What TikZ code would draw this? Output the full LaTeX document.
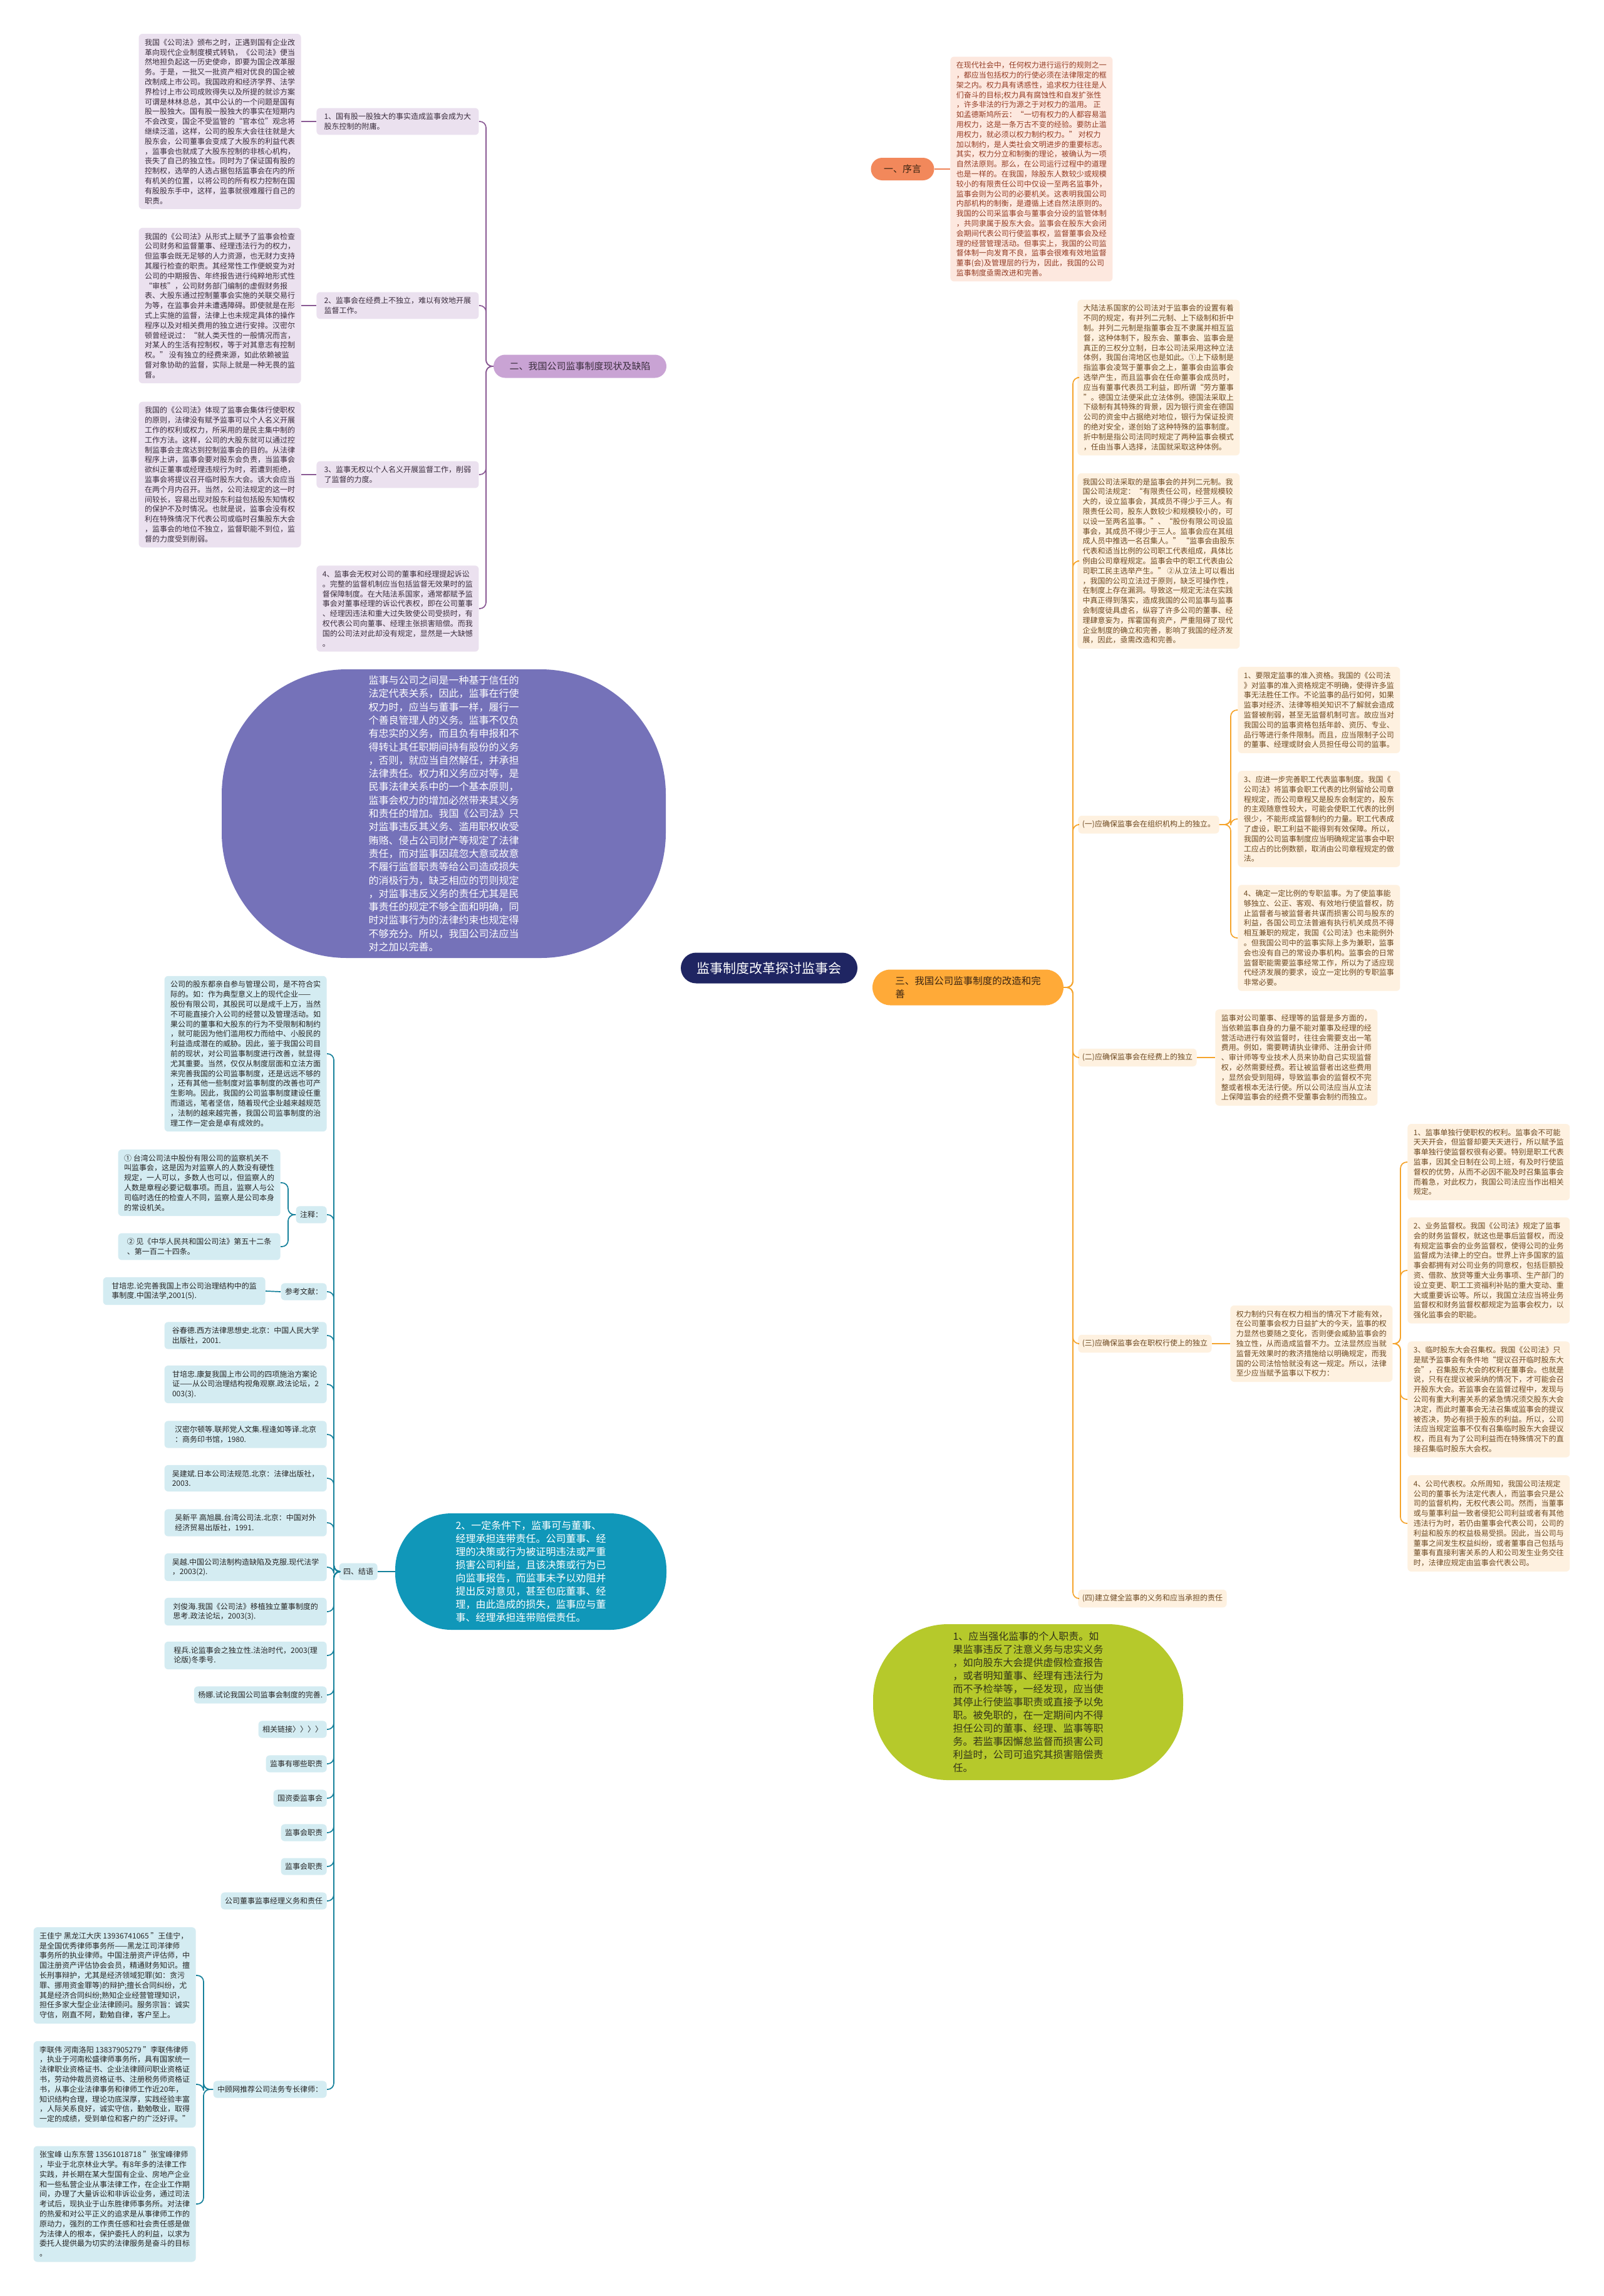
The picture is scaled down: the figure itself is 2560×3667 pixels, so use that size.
\documentclass[tikz,border=0pt]{standalone}
\usepackage{fontspec}
\setmainfont{Noto Sans CJK SC}
\pgfdeclarelayer{bg}
\pgfsetlayers{bg,main}
\definecolor{pfill}{HTML}{EBE1EF}
\definecolor{ptext}{HTML}{3B2E3E}
\definecolor{pline}{HTML}{8A5A94}
\definecolor{ppill}{HTML}{C9A3D4}
\definecolor{pell}{HTML}{7572B9}
\definecolor{rootc}{HTML}{1F2562}
\definecolor{ofill}{HTML}{FEF1E0}
\definecolor{otext}{HTML}{6E4A22}
\definecolor{oline}{HTML}{F5A42C}
\definecolor{opill}{HTML}{FFAA38}
\definecolor{xfill}{HTML}{FDE8DF}
\definecolor{xtext}{HTML}{943D26}
\definecolor{xline}{HTML}{EF8357}
\definecolor{xpill}{HTML}{F2885B}
\definecolor{tfill}{HTML}{D4ECF2}
\definecolor{ttext}{HTML}{262626}
\definecolor{tline}{HTML}{16819B}
\definecolor{tell}{HTML}{1097B9}
\definecolor{gell}{HTML}{B6C92B}
\definecolor{gtext}{HTML}{33331A}
\definecolor{dtext}{HTML}{3A2412}
\begin{document}
\begin{tikzpicture}[x=0.5pt,y=-0.5pt,
  bx/.style={inner xsep=3.25pt,inner ysep=4pt,rounded corners=3pt,align=left,font=\fontsize{6pt}{7.9pt}\selectfont},
  bxw/.style={bx,minimum width=129.5pt},
  pb/.style={bxw,fill=pfill,text=ptext},
  ob/.style={bxw,fill=ofill,text=otext},
  osm/.style={bx,fill=ofill,text=otext},
  xb/.style={bxw,fill=xfill,text=xtext},
  tb/.style={bxw,fill=tfill,text=ttext},
  tsm/.style={bx,fill=tfill,text=ttext},
  pl/.style={draw=pline,line width=0.85pt,rounded corners=5pt},
  ol/.style={draw=oline,line width=0.85pt,rounded corners=5pt},
  tl/.style={draw=tline,line width=0.85pt,rounded corners=5pt},
  xl/.style={draw=xline,line width=0.85pt},
  blob/.style={inner sep=2pt,align=left,font=\fontsize{8pt}{10.5pt}\selectfont},
]
\useasboundingbox (0,0) rectangle (2560,3667);
\fill[white] (0,0) rectangle (2560,3667);

% ---------- root ----------
\node[fill=rootc,text=white,rounded corners=12.25pt,minimum width=141pt,minimum height=24.5pt,inner sep=2pt,font=\fontsize{10.5pt}{12pt}\selectfont] (root) at (1228,1546) {监事制度改革探讨监事会};

% ---------- 一、序言 ----------
\node[fill=xpill,text=dtext,rounded corners=9pt,minimum width=50.5pt,minimum height=18pt,inner sep=2pt,font=\fontsize{7.5pt}{9pt}\selectfont] (xu) at (1441,270) {一、序言};
\node[xb,anchor=west] (xut) at (1517,270) {在现代社会中，任何权力进行运行的规则之一\\，都应当包括权力的行使必须在法律限定的框\\架之内。权力具有诱惑性，追求权力往往是人\\们奋斗的目标;权力具有腐蚀性和自发扩张性\\，许多非法的行为源之于对权力的滥用。 正\\如孟德斯鸠所云：“一切有权力的人都容易滥\\用权力，这是一条万古不变的经验。要防止滥\\用权力，就必须以权力制约权力。” 对权力\\加以制约，是人类社会文明进步的重要标志。\\其实，权力分立和制衡的理论，被确认为一项\\自然法原则。那么，在公司运行过程中的道理\\也是一样的。在我国，除股东人数较少或规模\\较小的有限责任公司中仅设一至两名监事外，\\监事会则为公司的必要机关。这表明我国公司\\内部机构的制衡，是遵循上述自然法原则的。\\我国的公司采监事会与董事会分设的监管体制\\，共同隶属于股东大会。监事会在股东大会闭\\会期间代表公司行使监事权，监督董事会及经\\理的经营管理活动。但事实上，我国的公司监\\督体制一向发育不良，监事会很难有效地监督\\董事(会)及管理层的行为，因此，我国的公司\\监事制度亟需改进和完善。};

% ---------- 二 ----------
\node[fill=ppill,text=ptext,rounded corners=9.25pt,minimum width=138pt,minimum height=18.5pt,inner sep=2pt,font=\fontsize{7.5pt}{9pt}\selectfont] (er) at (926,585) {二、我国公司监事制度现状及缺陷};

\node[pb,anchor=west] (l1) at (505,194) {1、国有股一股独大的事实造成监事会成为大\\股东控制的附庸。};
\node[pb,anchor=west] (l2) at (505,488) {2、监事会在经费上不独立，难以有效地开展\\监督工作。};
\node[pb,anchor=west] (l3) at (505,758) {3、监事无权以个人名义开展监督工作，削弱\\了监督的力度。};
\node[pb,anchor=west] (l4) at (505,972) {4、监事会无权对公司的董事和经理提起诉讼\\。完整的监督机制应当包括监督无效果时的监\\督保障制度。在大陆法系国家，通常都赋予监\\事会对董事经理的诉讼代表权，即在公司董事\\、经理因违法和重大过失致使公司受损时，有\\权代表公司向董事、经理主张损害赔偿。而我\\国的公司法对此却没有规定，显然是一大缺憾\\。};

\node[pb,anchor=east] (a1) at (481,194) {我国《公司法》颁布之时，正遇到国有企业改\\革向现代企业制度模式转轨，《公司法》便当\\然地担负起这一历史使命，即要为国企改革服\\务。于是，一批又一批资产相对优良的国企被\\改制成上市公司。我国政府和经济学界、法学\\界检讨上市公司成败得失以及所提的就诊方案\\可谓是林林总总，其中公认的一个问题是国有\\股一股独大。国有股一股独大的事实在短期内\\不会改变，国企不受监管的“官本位”观念将\\继续泛滥，这样，公司的股东大会往往就是大\\股东会，公司董事会变成了大股东的利益代表\\，监事会也就成了大股东控制的非核心机构，\\丧失了自己的独立性。同时为了保证国有股的\\控制权，选举的人选占据包括监事会在内的所\\有机关的位置，以将公司的所有权力控制在国\\有股股东手中，这样，监事就很难履行自己的\\职责。};
\node[pb,anchor=east] (a2) at (481,488) {我国的《公司法》从形式上赋予了监事会检查\\公司财务和监督董事、经理违法行为的权力，\\但监事会既无足够的人力资源，也无财力支持\\其履行检查的职责。其经常性工作便蜕变为对\\公司的中期报告、年终报告进行纯粹地形式性\\“审核”，公司财务部门编制的虚假财务报\\表、大股东通过控制董事会实施的关联交易行\\为等，在监事会并未遭遇障碍。即使就是在形\\式上实施的监督，法律上也未规定具体的操作\\程序以及对相关费用的独立进行安排。汉密尔\\顿曾经说过：“就人类天性的一般情况而言，\\对某人的生活有控制权，等于对其意志有控制\\权。” 没有独立的经费来源，如此依赖被监\\督对象协助的监督，实际上就是一种无畏的监\\督。};
\node[pb,anchor=east] (a3) at (481,758) {我国的《公司法》体现了监事会集体行使职权\\的原则，法律没有赋予监事可以个人名义开展\\工作的权利或权力，所采用的是民主集中制的\\工作方法。这样，公司的大股东就可以通过控\\制监事会主席达到控制监事会的目的。从法律\\程序上讲，监事会要对股东会负责，当监事会\\欲纠正董事或经理违规行为时，若遭到拒绝，\\监事会将提议召开临时股东大会。该大会应当\\在两个月内召开。当然，公司法规定的这一时\\间较长，容易出现对股东利益包括股东知情权\\的保护不及时情况。也就是说，监事会没有权\\利在特殊情况下代表公司或临时召集股东大会\\，监事会的地位不独立，监督职能不到位，监\\督的力度受到削弱。};

% ---------- purple blob ----------
\node[blob,fill=pell,text=white,rounded corners=100pt,minimum width=354.5pt,minimum height=230.5pt,font=\fontsize{8pt}{10.65pt}\selectfont] (pe) at (708.5,1299.5) {监事与公司之间是一种基于信任的\\法定代表关系，因此，监事在行使\\权力时，应当与董事一样，履行一\\个善良管理人的义务。监事不仅负\\有忠实的义务，而且负有申报和不\\得转让其任职期间持有股份的义务\\，否则，就应当自然解任，并承担\\法律责任。权力和义务应对等，是\\民事法律关系中的一个基本原则，\\监事会权力的增加必然带来其义务\\和责任的增加。我国《公司法》只\\对监事违反其义务、滥用职权收受\\贿赂、侵占公司财产等规定了法律\\责任，而对监事因疏忽大意或故意\\不履行监督职责等给公司造成损失\\的消极行为，缺乏相应的罚则规定\\，对监事违反义务的责任尤其是民\\事责任的规定不够全面和明确，同\\时对监事行为的法律约束也规定得\\不够充分。所以，我国公司法应当\\对之加以完善。};

% ---------- 三 ----------
\node[fill=opill,text=dtext,rounded corners=14.25pt,minimum width=152.5pt,minimum height=28.5pt,inner xsep=15pt,inner ysep=2pt,align=left,font=\fontsize{7.75pt}{10.5pt}\selectfont] (san) at (1545.5,1577) {三、我国公司监事制度的改造和完\\善\hspace*{108pt}};

\node[ob,anchor=west] (b1) at (1720,603) {大陆法系国家的公司法对于监事会的设置有着\\不同的规定，有并列二元制、上下级制和折中\\制。并列二元制是指董事会互不隶属并相互监\\督，这种体制下，股东会、董事会、监事会是\\真正的三权分立制，日本公司法采用这种立法\\体例，我国台湾地区也是如此。①上下级制是\\指监事会凌驾于董事会之上，董事会由监事会\\选举产生，而且监事会在任命董事会成员时，\\应当有董事代表员工利益，即所谓“劳方董事\\”。德国立法便采此立法体例。德国法采取上\\下级制有其特殊的背景，因为银行资金在德国\\公司的资金中占据绝对地位，银行为保证投资\\的绝对安全，遂创始了这种特殊的监事制度。\\折中制是指公司法同时规定了两种监事会模式\\，任由当事人选择，法国就采取这种体例。};
\node[ob,anchor=west] (b2) at (1720,896) {我国公司法采取的是监事会的并列二元制。我\\国公司法规定：“有限责任公司，经营规模较\\大的，设立监事会，其成员不得少于三人。有\\限责任公司，股东人数较少和规模较小的，可\\以设一至两名监事。”、“股份有限公司设监\\事会，其成员不得少于三人。监事会应在其组\\成人员中推选一名召集人。” “监事会由股东\\代表和适当比例的公司职工代表组成，具体比\\例由公司章程规定。监事会中的职工代表由公\\司职工民主选举产生。” ②从立法上可以看出\\，我国的公司立法过于原则，缺乏可操作性，\\在制度上存在漏洞。导致这一规定无法在实践\\中真正得到落实，造成我国的公司监事与监事\\会制度徒具虚名，纵容了许多公司的董事、经\\理肆意妄为，挥霍国有资产，严重阻碍了现代\\企业制度的确立和完善，影响了我国的经济发\\展，因此，亟需改造和完善。};

\node[osm,anchor=west] (o1) at (1721,1317) {(一)应确保监事会在组织机构上的独立。};
\node[ob,anchor=west] (r1) at (1976,1134) {1、要限定监事的准入资格。我国的《公司法\\》对监事的准入资格规定不明确，使得许多监\\事无法胜任工作。不论监事的品行如何，如果\\监事对经济、法律等相关知识不了解就会造成\\监督被削弱，甚至无监督机制可言。故应当对\\我国公司的监事资格包括年龄、资历、专业、\\品行等进行条件限制。而且，应当限制子公司\\的董事、经理或财会人员担任母公司的监事。};
\node[ob,anchor=west] (r3) at (1976,1308) {3、应进一步完善职工代表监事制度。我国《\\公司法》将监事会职工代表的比例留给公司章\\程规定，而公司章程又是股东会制定的，股东\\的主观随意性较大，可能会使职工代表的比例\\很少，不能形成监督制约的力量。职工代表成\\了虚设，职工利益不能得到有效保障。所以，\\我国的公司监事制度应当明确规定监事会中职\\工应占的比例数额，取消由公司章程规定的做\\法。};
\node[ob,anchor=west] (r4) at (1976,1498) {4、确定一定比例的专职监事。为了使监事能\\够独立、公正、客观、有效地行使监督权，防\\止监督者与被监督者共谋而损害公司与股东的\\利益，各国公司立法普遍有执行机关成员不得\\相互兼职的规定，我国《公司法》也未能例外\\。但我国公司中的监事实际上多为兼职，监事\\会也没有自己的常设办事机构。监事会的日常\\监督职能需要监事经常工作，所以为了适应现\\代经济发展的要求，设立一定比例的专职监事\\非常必要。};

\node[osm,anchor=west] (o2) at (1721,1689) {(二)应确保监事会在经费上的独立};
\node[ob,anchor=west] (cb) at (1940,1689) {监事对公司董事、经理等的监督是多方面的，\\当依赖监事自身的力量不能对董事及经理的经\\营活动进行有效监督时，往往会需要支出一笔\\费用。例如，需要聘请执业律师、注册会计师\\、审计师等专业技术人员来协助自己实现监督\\权，必然需要经费。若让被监督者出这些费用\\，显然会受到阻碍，导致监事会的监督权不完\\整或者根本无法行使。所以公司法应当从立法\\上保障监事会的经费不受董事会制约而独立。};

\node[osm,anchor=west] (o3) at (1721,2146) {(三)应确保监事会在职权行使上的独立};
\node[ob,anchor=west] (db) at (1964,2146) {权力制约只有在权力相当的情况下才能有效，\\在公司董事会权力日益扩大的今天，监事的权\\力显然也要随之变化，否则便会威胁监事会的\\独立性，从而造成监督不力。立法显然应当就\\监督无效果时的救济措施给以明确规定，而我\\国的公司法恰恰就没有这一规定。所以，法律\\至少应当赋予监事以下权力：};
\node[ob,anchor=west] (e1) at (2247,1856) {1、监事单独行使职权的权利。监事会不可能\\天天开会，但监督却要天天进行，所以赋予监\\事单独行使监督权很有必要。特别是职工代表\\监事，因其全日制在公司上班，有及时行使监\\督权的优势，从而不必因不能及时召集监事会\\而着急，对此权力，我国公司法应当作出相关\\规定。};
\node[ob,anchor=west] (e2) at (2247,2029) {2、业务监督权。我国《公司法》规定了监事\\会的财务监督权，就这也是事后监督权，而没\\有规定监事会的业务监督权，使得公司的业务\\监督成为法律上的空白。世界上许多国家的监\\事会都拥有对公司业务的同意权，包括巨额投\\资、借款、放贷等重大业务事项、生产部门的\\设立变更、职工工资福利补贴的重大变动、重\\大或重要诉讼等。所以，我国立法应当将业务\\监督权和财务监督权都规定为监事会权力，以\\强化监事会的职能。};
\node[ob,anchor=west] (e3) at (2247,2235) {3、临时股东大会召集权。我国《公司法》只\\是赋予监事会有条件地“提议召开临时股东大\\会”，召集股东大会的权利在董事会。也就是\\说，只有在提议被采纳的情况下，才可能会召\\开股东大会。若监事会在监督过程中，发现与\\公司有重大利害关系的紧急情况须交股东大会\\决定，而此时董事会无法召集或监事会的提议\\被否决，势必有损于股东的利益。所以，公司\\法应当规定监事不仅有召集临时股东大会提议\\权，而且有为了公司利益而在特殊情况下的直\\接召集临时股东大会权。};
\node[ob,anchor=west] (e4) at (2247,2433) {4、公司代表权。众所周知，我国公司法规定\\公司的董事长为法定代表人，而监事会只是公\\司的监督机构，无权代表公司。然而，当董事\\或与董事利益一致者侵犯公司利益或者有其他\\违法行为时，若仍由董事会代表公司，公司的\\利益和股东的权益极易受损。因此，当公司与\\董事之间发生权益纠纷，或者董事自己包括与\\董事有直接利害关系的人和公司发生业务交往\\时，法律应规定由监事会代表公司。};

\node[osm,anchor=west] (o4) at (1721,2553) {(四)建立健全监事的义务和应当承担的责任};

% ---------- green blob ----------
\node[blob,fill=gell,text=gtext,rounded corners=60pt,minimum width=247.5pt,minimum height=124.5pt] (ge) at (1641.5,2718.5) {1、应当强化监事的个人职责。如\\果监事违反了注意义务与忠实义务\\，如向股东大会提供虚假检查报告\\，或者明知董事、经理有违法行为\\而不予检举等，一经发现，应当使\\其停止行使监事职责或直接予以免\\职。被免职的，在一定期间内不得\\担任公司的董事、经理、监事等职\\务。若监事因懈怠监督而损害公司\\利益时，公司可追究其损害赔偿责\\任。};

% ---------- teal blob ----------
\node[blob,fill=tell,text=white,rounded corners=45pt,minimum width=216.5pt,minimum height=93pt] (te) at (847.5,2510) {2、一定条件下，监事可与董事、\\经理承担连带责任。公司董事、经\\理的决策或行为被证明违法或严重\\损害公司利益，且该决策或行为已\\向监事报告，而监事未予以劝阻并\\提出反对意见，甚至包庇董事、经\\理，由此造成的损失，监事应与董\\事、经理承担连带赔偿责任。};

\node[tsm,anchor=east] (jy) at (603,2510) {四、结语};

\node[tb,anchor=east] (k1) at (522,1683) {公司的股东都亲自参与管理公司，是不符合实\\际的。如：作为典型意义上的现代企业——\\股份有限公司，其股民可以是成千上万，当然\\不可能直接介入公司的经营以及管理活动。如\\果公司的董事和大股东的行为不受限制和制约\\，就可能因为他们滥用权力而给中、小股民的\\利益造成潜在的威胁。因此，鉴于我国公司目\\前的现状，对公司监事制度进行改善，就显得\\尤其重要。当然，仅仅从制度层面和立法方面\\来完善我国的公司监事制度，还是远远不够的\\，还有其他一些制度对监事制度的改善也可产\\生影响。因此，我国的公司监事制度建设任重\\而道远，笔者坚信，随着现代企业越来越规范\\，法制的越来越完善，我国公司监事制度的治\\理工作一定会是卓有成效的。};

\node[tsm,anchor=east] (zs) at (522,1940) {注释：};
\node[tb,anchor=east] (n1) at (448,1889) {① 台湾公司法中股份有限公司的监察机关不\\叫监事会，这是因为对监察人的人数没有硬性\\规定，一人可以，多数人也可以，但监察人的\\人数是章程必要记载事项。而且，监察人与公\\司临时选任的检查人不同，监察人是公司本身\\的常设机关。};
\node[tb,anchor=east] (n2) at (448,1991) {② 见《中华人民共和国公司法》第五十二条\\、第一百二十四条。};

\node[tsm,anchor=east] (ck) at (522,2063) {参考文献：};
\node[tb,anchor=east] (f0) at (424,2062) {甘培忠.论完善我国上市公司治理结构中的监\\事制度.中国法学,2001(5).};

\node[tb,anchor=east] (f1) at (522,2133) {谷春德.西方法律思想史.北京：中国人民大学\\出版社，2001.};
\node[tb,anchor=east] (f2) at (522,2211) {甘培忠.康复我国上市公司的四项施治方案论\\证——从公司治理结构视角观察.政法论坛，2\\003(3).};
\node[tb,anchor=east] (f3) at (522,2291) {汉密尔顿等.联邦党人文集.程逢如等译.北京\\：商务印书馆，1980.};
\node[tb,anchor=east] (f4) at (522,2361) {吴建斌.日本公司法规范.北京：法律出版社，\\2003.};
\node[tb,anchor=east] (f5) at (522,2432) {吴新平 高旭晨.台湾公司法.北京：中国对外\\经济贸易出版社，1991.};
\node[tb,anchor=east] (f6) at (522,2503) {吴越.中国公司法制构造缺陷及克服.现代法学\\，2003(2).};
\node[tb,anchor=east] (f7) at (522,2574) {刘俊海.我国《公司法》移植独立董事制度的\\思考.政法论坛，2003(3).};
\node[tb,anchor=east] (f8) at (522,2644) {程兵.论监事会之独立性.法治时代，2003(理\\论版)冬季号.};
\node[tsm,anchor=east] (f9) at (522,2707) {杨娜.试论我国公司监事会制度的完善.};
\node[tsm,anchor=east] (f10) at (522,2762) {相关链接〉〉〉〉};
\node[tsm,anchor=east] (f11) at (522,2817) {监事有哪些职责};
\node[tsm,anchor=east] (f12) at (522,2872) {国资委监事会};
\node[tsm,anchor=east] (f13) at (522,2927) {监事会职责};
\node[tsm,anchor=east] (f14) at (522,2981) {监事会职责};
\node[tsm,anchor=east] (f15) at (522,3036) {公司董事监事经理义务和责任};

\node[tsm,anchor=east] (zg) at (522,3337) {中顾网推荐公司法务专长律师：};
\node[tb,anchor=east] (p1) at (313,3155) {王佳宁 黑龙江大庆 13936741065 "王佳宁，\\是全国优秀律师事务所——黑龙江司洋律师\\事务所的执业律师。中国注册资产评估师，中\\国注册资产评估协会会员，精通财务知识。擅\\长刑事辩护，尤其是经济领域犯罪(如：贪污\\罪、挪用资金罪等)的辩护;擅长合同纠纷，尤\\其是经济合同纠纷;熟知企业经营管理知识，\\担任多家大型企业法律顾问。服务宗旨：诚实\\守信，刚直不阿，勤勉自律，客户至上。};
\node[tb,anchor=east] (p2) at (313,3329) {李联伟 河南洛阳 13837905279 "李联伟律师\\，执业于河南松盛律师事务所，具有国家统一\\法律职业资格证书、企业法律顾问职业资格证\\书，劳动仲裁员资格证书、注册税务师资格证\\书，从事企业法律事务和律师工作近20年，\\知识结构合理，理论功底深厚，实践经验丰富\\，人际关系良好，诚实守信，勤勉敬业，取得\\一定的成绩，受到单位和客户的广泛好评。"};
\node[tb,anchor=east] (p3) at (313,3520) {张宝峰 山东东营 13561018718 "张宝峰律师\\，毕业于北京林业大学。有8年多的法律工作\\实践，并长期在某大型国有企业、房地产企业\\和一些私营企业从事法律工作，在企业工作期\\间，办理了大量诉讼和非诉讼业务，通过司法\\考试后，现执业于山东胜律师事务所。对法律\\的热爱和对公平正义的追求是从事律师工作的\\原动力，强烈的工作责任感和社会责任感是做\\为法律人的根本，保护委托人的利益，以求为\\委托人提供最为切实的法律服务是奋斗的目标\\。};

% ---------- connectors ----------
\coordinate (pbx) at (776,0);
\coordinate (obx) at (1713,0);
\coordinate (rbx) at (1965,0);
\coordinate (ebx) at (2236,0);
\coordinate (tbx) at (533,0);
\coordinate (nbx) at (460,0);
\coordinate (qbx) at (325,0);
\begin{pgfonlayer}{bg}
\draw[draw=xline,line width=1.1pt] (root.center) .. controls (1228,600) and (1300,270) .. (xu.west);
\draw[draw=pline,line width=1.1pt] (root.center) .. controls (1228,750) and (1150,585) .. (er.east);
\draw[draw=pell,line width=1.1pt] (root.center) .. controls (1228,1350) and (1150,1300) .. (pe.east);
\draw[draw=oline,line width=1.1pt] (root.center) .. controls (1260,1577) and (1320,1577) .. (san.west);
\draw[draw=tline,line width=1.1pt] (root.center) .. controls (1226,2200) and (1180,2510) .. (te.east);
\draw[draw=gell,line width=1.1pt] (root.center) .. controls (1235,2300) and (1300,2719) .. (ge.west);
\end{pgfonlayer}

\draw[xl] (xu.east) -- (xut.west);
\foreach \nn in {l1,l2,l3,l4} \draw[pl] (er.west) -- (er.west -| pbx) |- (\nn.east);
\draw[pl] (a1.east) -- (l1.west);
\draw[pl] (a2.east) -- (l2.west);
\draw[pl] (a3.east) -- (l3.west);

\foreach \nn in {b1,b2,o1,o2,o3,o4} \draw[ol] (san.east) -- (san.east -| obx) |- (\nn.west);
\foreach \nn in {r1,r3,r4} \draw[ol] (o1.east) -- (o1.east -| rbx) |- (\nn.west);
\draw[ol] (o2.east) -- (cb.west);
\draw[ol] (o3.east) -- (db.west);
\foreach \nn in {e1,e2,e3,e4} \draw[ol] (db.east) -- (db.east -| ebx) |- (\nn.west);

\draw[tl] (te.west) -- (jy.east);
\foreach \nn in {k1,zs,ck,f1,f2,f3,f4,f5,f6,f7,f8,f9,f10,f11,f12,f13,f14,f15,zg} \draw[tl] (jy.west) -- (jy.west -| tbx) |- (\nn.east);
\foreach \nn in {n1,n2} \draw[tl] (zs.west) -- (zs.west -| nbx) |- (\nn.east);
\draw[tl] (ck.west) -- (f0.east);
\foreach \nn in {p1,p2,p3} \draw[tl] (zg.west) -- (zg.west -| qbx) |- (\nn.east);
\end{tikzpicture}
\end{document}
